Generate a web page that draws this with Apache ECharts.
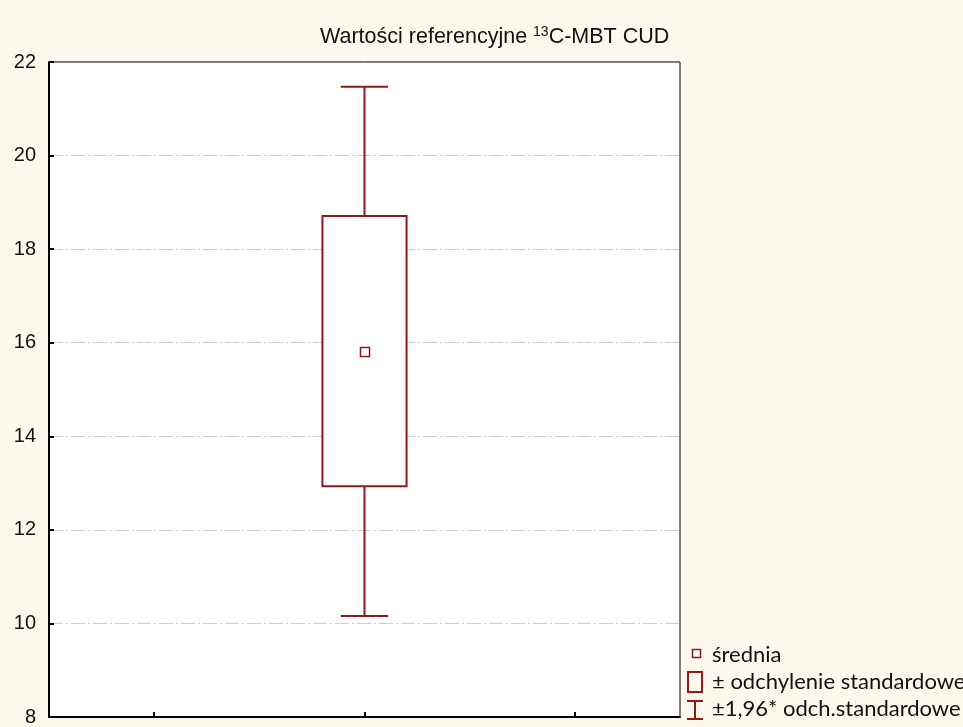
<!DOCTYPE html>
<html><head><meta charset="utf-8">
<script src="https://cdn.jsdelivr.net/npm/echarts@6/dist/echarts.min.js"></script>
<style>html,body{margin:0;padding:0;background:#FDF8EE;}#c{width:963px;height:727px;}</style>
</head><body><div id="c"></div>
<script>
const categories = ['', 'CUD', ''];
const yTicks = [8, 10, 12, 14, 16, 18, 20, 22];
const meanVal = [15.81];
const sdLow = [12.93];
const sdHigh = [18.71];
const ciLow = [10.16];
const ciHigh = [21.47];
const legendLabels = ['średnia', '± odchylenie standardowe', '±1,96* odch.standardowe'];

const red = '#8E1A1A';
const chart = echarts.init(document.getElementById('c'));
const data = meanVal.map((m, i) => [1, ciLow[i], sdLow[i], m, sdHigh[i], ciHigh[i]]);

chart.setOption({
  backgroundColor: '#FDF8EE',
  animation: false,
  title: {
    text: 'Wartości referencyjne {sup|13}C-MBT CUD',
    left: 315, top: 20,
    textStyle: {
      fontFamily: 'Liberation Sans', fontSize: 21.5, fontWeight: 'normal', color: '#111',
      rich: { sup: { fontFamily: 'Liberation Sans', fontSize: 14, color: '#111', padding: [0, 0, 11, 0] } }
    }
  },
  grid: { left: 49, top: 62, right: 283, bottom: 9, show: true, backgroundColor: '#fff', borderColor: '#000', borderWidth: 1 },
  xAxis: {
    type: 'category', data: categories, boundaryGap: true,
    axisLine: { lineStyle: { color: '#000', width: 2 } },
    axisTick: { show: true, inside: true, alignWithLabel: true, length: 5, lineStyle: { color: '#000', width: 2 } },
    axisLabel: { show: false }, splitLine: { show: false }
  },
  yAxis: {
    type: 'value', min: yTicks[0], max: yTicks[yTicks.length - 1], interval: 2,
    axisLine: { show: true, lineStyle: { color: '#000', width: 2 } },
    axisTick: { show: true, inside: true, length: 5, lineStyle: { color: '#000', width: 2 } },
    axisLabel: { fontFamily: 'Liberation Sans', fontSize: 20, color: '#111', margin: 13 },
    splitLine: { show: true, showMinLine: false, showMaxLine: false, lineStyle: { color: '#cfcfcf', width: 1, type: [14, 3, 2, 3] } }
  },
  series: [{
    type: 'custom',
    data: data,
    encode: { x: 0, y: [1, 2, 3, 4, 5] },
    renderItem: function (params, api) {
      const x = api.value(0);
      const pLo = api.coord([x, api.value(1)]);
      const pSL = api.coord([x, api.value(2)]);
      const pM = api.coord([x, api.value(3)]);
      const pSH = api.coord([x, api.value(4)]);
      const pHi = api.coord([x, api.value(5)]);
      const bw = api.size([1, 0])[0] * 0.4;
      const cw = api.size([1, 0])[0] * 0.225;
      const cx = pM[0];
      const ls = { stroke: red, lineWidth: 2, fill: null };
      return {
        type: 'group',
        children: [
          { type: 'line', shape: { x1: cx, y1: pHi[1], x2: cx, y2: pSH[1] }, style: ls },
          { type: 'line', shape: { x1: cx, y1: pSL[1], x2: cx, y2: pLo[1] }, style: ls },
          { type: 'line', shape: { x1: cx - cw / 2, y1: pHi[1], x2: cx + cw / 2, y2: pHi[1] }, style: ls },
          { type: 'line', shape: { x1: cx - cw / 2, y1: pLo[1], x2: cx + cw / 2, y2: pLo[1] }, style: ls },
          { type: 'rect', shape: { x: cx - bw / 2, y: pSH[1], width: bw, height: pSL[1] - pSH[1] }, style: { stroke: red, lineWidth: 2, fill: '#fff' } },
          { type: 'rect', shape: { x: cx - 4, y: pM[1] - 4, width: 9, height: 9 }, style: { stroke: red, lineWidth: 1.5, fill: '#fff' } }
        ]
      };
    }
  }],
  graphic: [
    { type: 'rect', shape: { x: 692.5, y: 649.5, width: 8, height: 8 }, style: { stroke: red, lineWidth: 1.5, fill: '#fff' } },
    { type: 'rect', shape: { x: 688, y: 672, width: 14, height: 20 }, style: { stroke: red, lineWidth: 2, fill: 'transparent' } },
    { type: 'line', shape: { x1: 687, y1: 701, x2: 703, y2: 701 }, style: { stroke: red, lineWidth: 2 } },
    { type: 'line', shape: { x1: 687, y1: 719, x2: 703, y2: 719 }, style: { stroke: red, lineWidth: 2 } },
    { type: 'line', shape: { x1: 695, y1: 701, x2: 695, y2: 719 }, style: { stroke: red, lineWidth: 2 } },
    { type: 'text', x: 712, y: 655, style: { text: legendLabels[0], fontFamily: 'Lato', fontSize: 22, fill: '#111', verticalAlign: 'middle' } },
    { type: 'text', x: 712, y: 682, style: { text: legendLabels[1], fontFamily: 'Lato', fontSize: 22, fill: '#111', verticalAlign: 'middle' } },
    { type: 'text', x: 712, y: 709, style: { text: legendLabels[2], fontFamily: 'Lato', fontSize: 22, fill: '#111', verticalAlign: 'middle' } }
  ]
});
</script></body></html>
